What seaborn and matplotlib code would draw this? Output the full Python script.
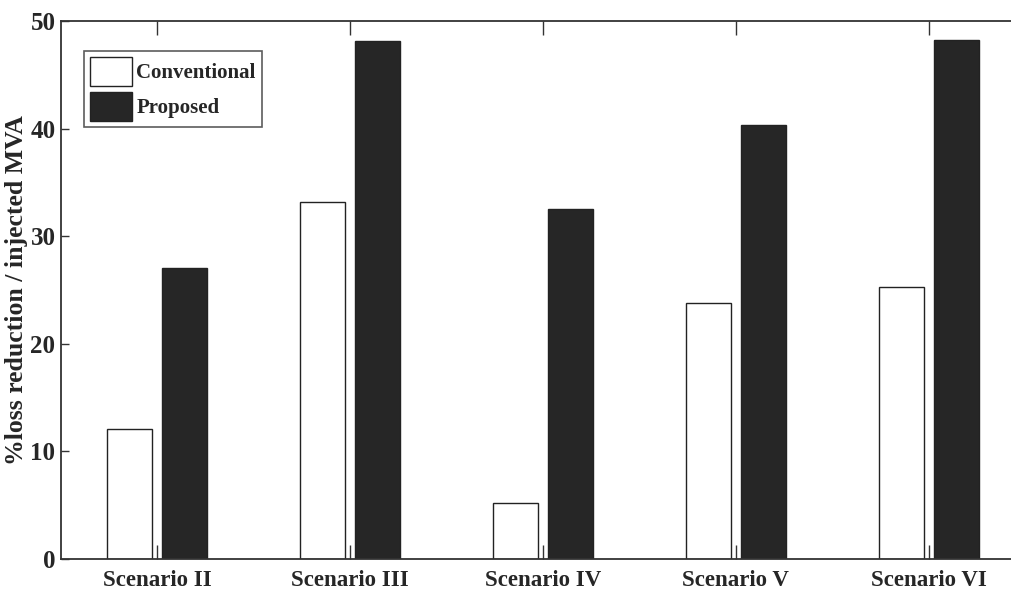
import numpy as np
import matplotlib.pyplot as plt
import pandas as pd
import seaborn as sns

escenarios = ['Scenario II', 'Scenario III', 'Scenario IV', 'Scenario V', 'Scenario VI']
convencional = [12.1, 33.2, 5.2, 23.8, 25.3]
propuesto = [27.0, 48.1, 32.5, 40.3, 48.2]
series = ['Conventional', 'Proposed']

# tabla larga para seaborn
df = pd.DataFrame({
    'escenario': escenarios * 2,
    'valor': convencional + propuesto,
    'serie': [series[0]] * 5 + [series[1]] * 5,
})

sns.set_style('white')
plt.rcParams['font.family'] = ['Liberation Serif', 'DejaVu Serif']
plt.rcParams['font.weight'] = 'bold'

fig = plt.figure(figsize=(10.12, 5.96), dpi=100)
ax = fig.add_axes([0.0603, 0.0621, 0.9526, 0.9027])

sns.barplot(data=df, x='escenario', y='valor', hue='serie',
            palette={'Conventional': 'white', 'Proposed': '#262626'},
            width=0.57, gap=0.18, edgecolor='#222222', linewidth=1.0,
            saturation=1, ax=ax)

ax.set_xlim(-0.5, 4.5)
ax.set_ylim(0, 50)
ax.set_yticks([0, 10, 20, 30, 40, 50])
ax.set_xlabel('')
ax.set_ylabel('%loss reduction / injected MVA', fontsize=18.5, fontweight='bold',
              labelpad=2)

for s in ax.spines.values():
    s.set_color('#333333')
    s.set_linewidth(1.3)

ax.tick_params(axis='x', direction='in', length=10, width=1, color='#333333',
               top=True, bottom=True, labelsize=16.5, pad=8)
ax.tick_params(axis='y', direction='in', length=6, width=1, color='#333333',
               left=True, right=True, labelsize=18, pad=4)

leg = ax.legend(loc='upper left', bbox_to_anchor=(0.024, 0.945), fontsize=15,
                frameon=True, fancybox=False, edgecolor='#333333',
                handlelength=2.0, handleheight=1.8, handletextpad=0.2,
                labelspacing=0.25, borderpad=0.3, borderaxespad=0)
leg.get_frame().set_linewidth(1.2)

fig.savefig('out.png', dpi=100)
